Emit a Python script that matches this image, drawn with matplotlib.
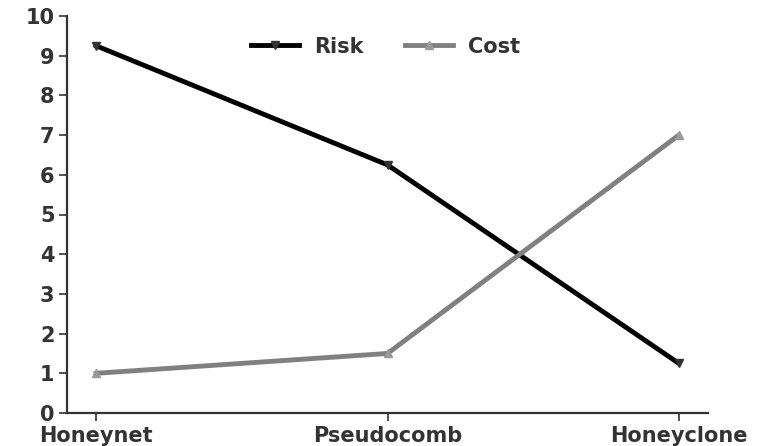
import matplotlib
matplotlib.use("Agg")
import matplotlib.pyplot as plt

categories = ["Honeynet", "Pseudocomb", "Honeyclone"]
risk = [9.25, 6.25, 1.25]
cost = [1.0, 1.5, 7.0]

plt.rcParams['font.family'] = ['DejaVu Sans']
plt.rcParams['font.weight'] = 'bold'

fig = plt.figure(figsize=(7.65, 4.46), dpi=100)
ax = fig.add_axes([67/765, 1-413/446, (708-67)/765, (413-16)/446])
x = list(range(len(categories)))
ax.plot(x, risk, color='black', lw=3.5, marker='v', ms=6, mfc='#333333', mec='#333333', label='Risk')
ax.plot(x, cost, color='#808080', lw=3.5, marker='^', ms=6, mfc='#999999', mec='#999999', label='Cost')

ax.set_xlim(-0.1, 2.1)
ax.set_ylim(0, 10)
ax.set_yticks(range(0, 11))
ax.set_xticks(x)
ax.set_xticklabels(categories)
for s in ['top', 'right']:
    ax.spines[s].set_visible(False)
for s in ['left', 'bottom']:
    ax.spines[s].set_linewidth(1.6)
    ax.spines[s].set_color('#333333')
ax.tick_params(axis='both', labelsize=15, colors='#333333', width=1.2, length=6, pad=3)
for lab in ax.get_xticklabels() + ax.get_yticklabels():
    lab.set_fontweight('bold')
    lab.set_color('#333333')
leg = ax.legend(loc='upper center', ncol=2, frameon=False, fontsize=15,
                bbox_to_anchor=(0.497, 0.995), handlelength=2.3, columnspacing=2.0,
                handletextpad=0.7)
for t in leg.get_texts():
    t.set_fontweight('bold')
    t.set_color('#333333')
fig.savefig('out.png', dpi=100)
